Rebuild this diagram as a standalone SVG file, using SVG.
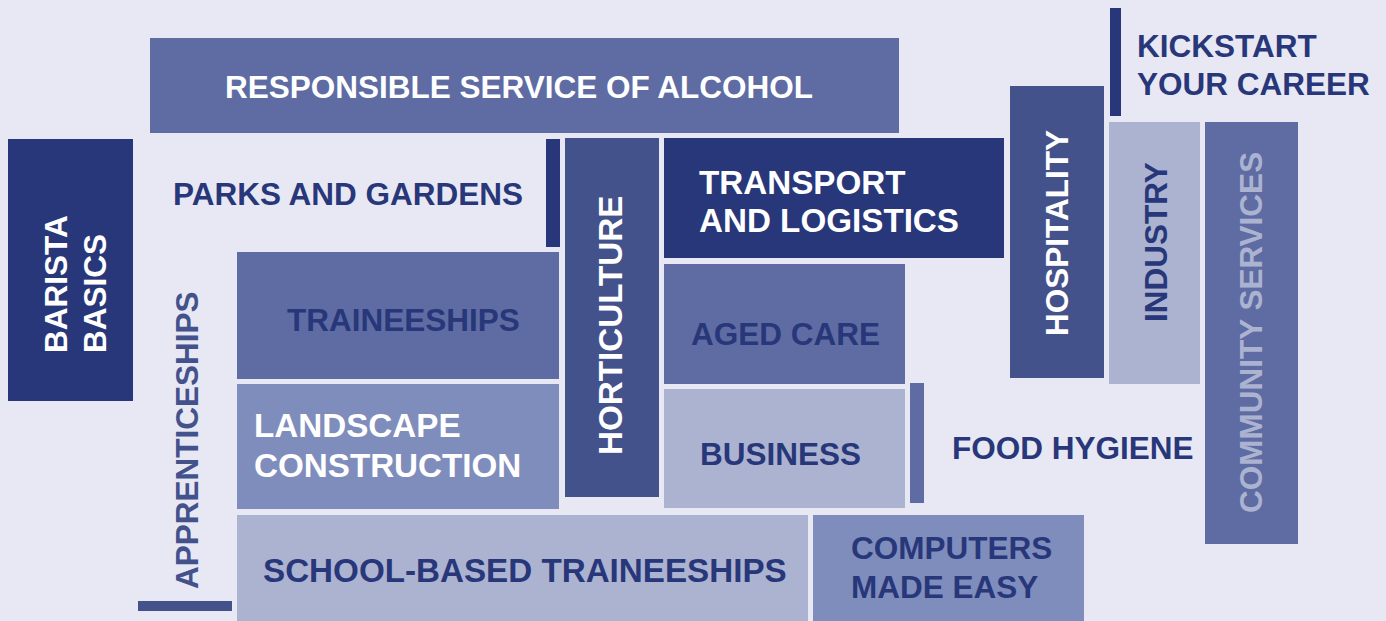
<svg xmlns="http://www.w3.org/2000/svg" width="1386" height="621" viewBox="0 0 1386 621">
<style>
text{font-family:"Liberation Sans",Arial,sans-serif;font-weight:bold;font-size:31.5px}
.big{font-size:33.2px}
.w{fill:#ffffff}.n{fill:#283779}.m{fill:#44528c}.l{fill:#acb3d1}
.c1{fill:#283779}.c2{fill:#44528c}.c3{fill:#5e6ca3}.c4{fill:#7f8dbd}.c5{fill:#acb3d1}
</style>
<rect width="1386" height="621" fill="#e8e8f4"/>
<g id="connectors"/>
<g id="rsa"><rect class="c3" x="150" y="38" width="749" height="95"/><text class="w" x="225" y="98">RESPONSIBLE SERVICE OF ALCOHOL</text></g>
<g id="kickstart"><rect class="c1" x="1110" y="8" width="11" height="108"/><text class="n" x="1137" y="57">KICKSTART</text><text class="n" x="1137" y="95">YOUR CAREER</text></g>
<g id="barista"><rect class="c1" x="8" y="139" width="125" height="262"/><text class="w" transform="translate(67,353) rotate(-90)">BARISTA</text><text class="w" transform="translate(106,353) rotate(-90)">BASICS</text></g>
<g id="parks"><text class="n" x="173" y="205">PARKS AND GARDENS</text><rect class="c1" x="546" y="139" width="14" height="108"/></g>
<g id="horticulture"><rect class="c2" x="565" y="138" width="94" height="359"/><text class="w big" transform="translate(622,455) rotate(-90)">HORTICULTURE</text></g>
<g id="transport"><rect class="c1" x="664" y="138" width="340" height="120"/><text class="w big" x="699" y="194">TRANSPORT</text><text class="w big" x="699" y="232">AND LOGISTICS</text></g>
<g id="hospitality"><rect class="c2" x="1010" y="86" width="94" height="292"/><text class="w" transform="translate(1068,336) rotate(-90)">HOSPITALITY</text></g>
<g id="industry"><rect class="c5" x="1109" y="122" width="91" height="262"/><text class="n" transform="translate(1167,322) rotate(-90)">INDUSTRY</text></g>
<g id="community"><rect class="c3" x="1205" y="122" width="93" height="422"/><text class="l" transform="translate(1262,513) rotate(-90)">COMMUNITY SERVICES</text></g>
<g id="apprenticeships"><text class="m" transform="translate(198,589) rotate(-90)">APPRENTICESHIPS</text><rect class="c2" x="138" y="601" width="94" height="10"/></g>
<g id="traineeships"><rect class="c3" x="237" y="252" width="322" height="127"/><text class="n" x="287" y="331">TRAINEESHIPS</text></g>
<g id="landscape"><rect class="c4" x="237" y="384" width="322" height="125"/><text class="w big" x="254" y="437">LANDSCAPE</text><text class="w big" x="254" y="477">CONSTRUCTION</text></g>
<g id="school"><rect class="c5" x="237" y="515" width="571" height="106"/><text class="n big" x="263" y="582">SCHOOL-BASED TRAINEESHIPS</text></g>
<g id="aged"><rect class="c3" x="664" y="264" width="241" height="120"/><text class="n" x="691" y="345">AGED CARE</text></g>
<g id="business"><rect class="c5" x="664" y="389" width="241" height="119"/><text class="n" x="700" y="465">BUSINESS</text></g>
<g id="food"><rect class="c3" x="910" y="383" width="14" height="120"/><text class="n" x="952" y="459">FOOD HYGIENE</text></g>
<g id="computers"><rect class="c4" x="813" y="515" width="271" height="106"/><text class="n" x="851" y="559">COMPUTERS</text><text class="n" x="851" y="598">MADE EASY</text></g>
</svg>
